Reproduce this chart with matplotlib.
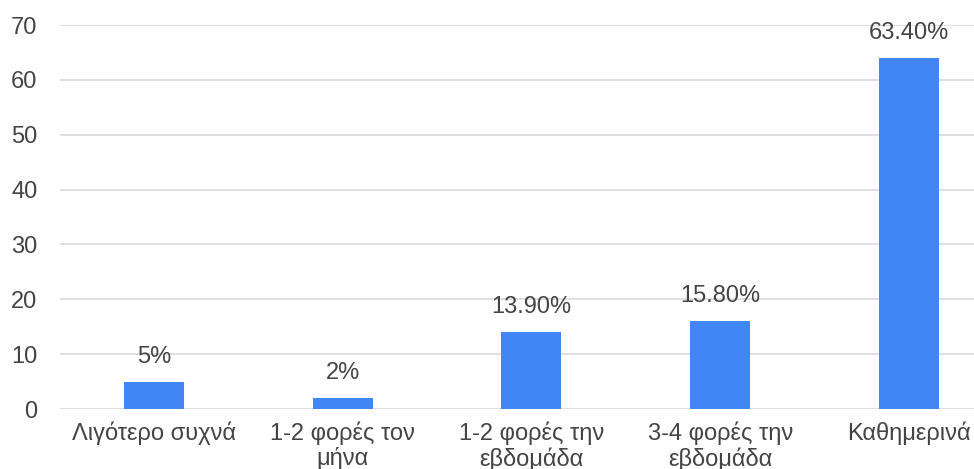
import matplotlib.pyplot as plt

categories = ["Λιγότερο συχνά", "1-2 φορές τον\nμήνα", "1-2 φορές την\nεβδομάδα",
              "3-4 φορές την\nεβδομάδα", "Καθημερινά"]
heights = [5, 2, 14, 16, 64]
value_labels = ["5%", "2%", "13.90%", "15.80%", "63.40%"]
yticks = [0, 10, 20, 30, 40, 50, 60, 70]

plt.rcParams['font.family'] = ['Liberation Sans', 'DejaVu Sans']
text_color = '#444444'

fig = plt.figure(figsize=(9.74, 4.69), dpi=100)
ax = fig.add_axes([59.5 / 974, 1 - 409 / 469, 1 - 59.5 / 974, (409 - 25) / 469])

x = list(range(len(categories)))
bars = ax.bar(x, heights, width=0.318, color='#4285F4', zorder=3)

for rect, lab in zip(bars, value_labels):
    ax.annotate(lab, (rect.get_x() + rect.get_width() / 2, rect.get_height()),
                xytext=(0, 10), textcoords='offset points', ha='center', va='bottom',
                fontsize=17, color=text_color)

ax.set_ylim(0, 70)
ax.set_xlim(-0.5, 4.344)
ax.set_yticks(yticks)
ax.set_xticks(x)
ax.set_xticklabels(categories, fontsize=17, color=text_color, linespacing=1.12)
ax.tick_params(axis='y', labelsize=17, labelcolor=text_color, length=0, pad=16)
ax.tick_params(axis='x', length=0, pad=9)
ax.grid(axis='y', color='#d9d9d9', linewidth=1.2, zorder=0)
for s in ax.spines.values():
    s.set_visible(False)

fig.savefig('out.png', dpi=100)
